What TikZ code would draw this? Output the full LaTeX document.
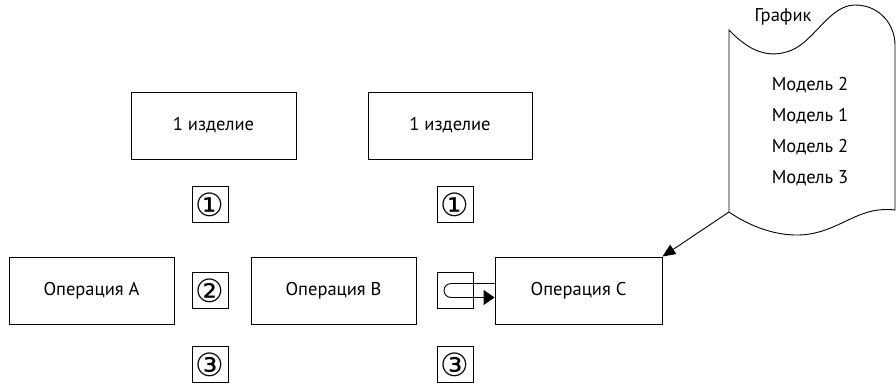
\documentclass[tikz,border=0pt]{standalone}
\usepackage{fontspec}
\setmainfont{PT Sans}
\newfontfamily\circfont{DejaVu Sans}
\usetikzlibrary{arrows.meta}
\tikzset{
  box/.style={draw, line width=0.9pt, minimum width=165pt, minimum height=67pt, inner sep=0pt, font=\fontsize{18.5}{21}\selectfont},
  numbox/.style={draw, line width=0.9pt, minimum width=36pt, minimum height=36pt, inner sep=0pt, font=\circfont\fontsize{32}{33}\selectfont},
  lbl/.style={inner sep=0pt, font=\fontsize{18.5}{21}\selectfont},
  conn/.style={line width=0.9pt},
}
\begin{document}
\begin{tikzpicture}[x=1pt,y=-1pt]
\useasboundingbox (0,0) rectangle (896,386);
% boxes
\node[box] (i1) at (213.5,125.5) {1 изделие};
\node[box, minimum width=164pt] (i2) at (450,125.5) {1 изделие};
\node[box] (opA) at (91.5,290.5) {Операция A};
\node[box] (opB) at (333.5,290.5) {Операция B};
\node[box, minimum width=167pt] (opC) at (578.5,290.5) {Операция C};
% numbered boxes
\node[numbox] (c1L) at (210,204.5) {①};
\node[numbox] (c2L) at (210,290.5) {②};
\node[numbox] (c3L) at (210,364.5) {③};
\node[numbox] (c1R) at (455,204.5) {①};
\node[numbox] (c2R) at (455,290.5) {};
\node[numbox] (c3R) at (455,364.5) {③};
% document shape
\coordinate (docBL) at (729,212);
\draw[line width=0.9pt] (729,30) .. controls (748,50) and (768,60) .. (792,50)
  .. controls (815,40) and (830,5) .. (855,5)
  .. controls (880,5) and (895,25) .. (895,45)
  -- (895,210)
  .. controls (862,206) and (845,226) .. (815,233)
  .. controls (785,240) and (752,228) .. (docBL) -- cycle;
\node[lbl] (graf) at (783,17) {График};
\node[lbl] (m1) at (810,85) {Модель 2};
\node[lbl] (m2) at (810,116) {Модель 1};
\node[lbl] (m3) at (810,147) {Модель 2};
\node[lbl] (m4) at (810,178) {Модель 3};
% connectors
\draw[conn, -{Triangle[length=13pt,width=11pt]}] (docBL) -- (opC.north east);
\draw[conn, -{Triangle[length=11pt,width=15pt]}] ([yshift=7pt]opC.west) -- (451,283.5)
  arc[start angle=90, end angle=270, radius=7pt] -- ([yshift=-7pt]opC.west);
\end{tikzpicture}
\end{document}
